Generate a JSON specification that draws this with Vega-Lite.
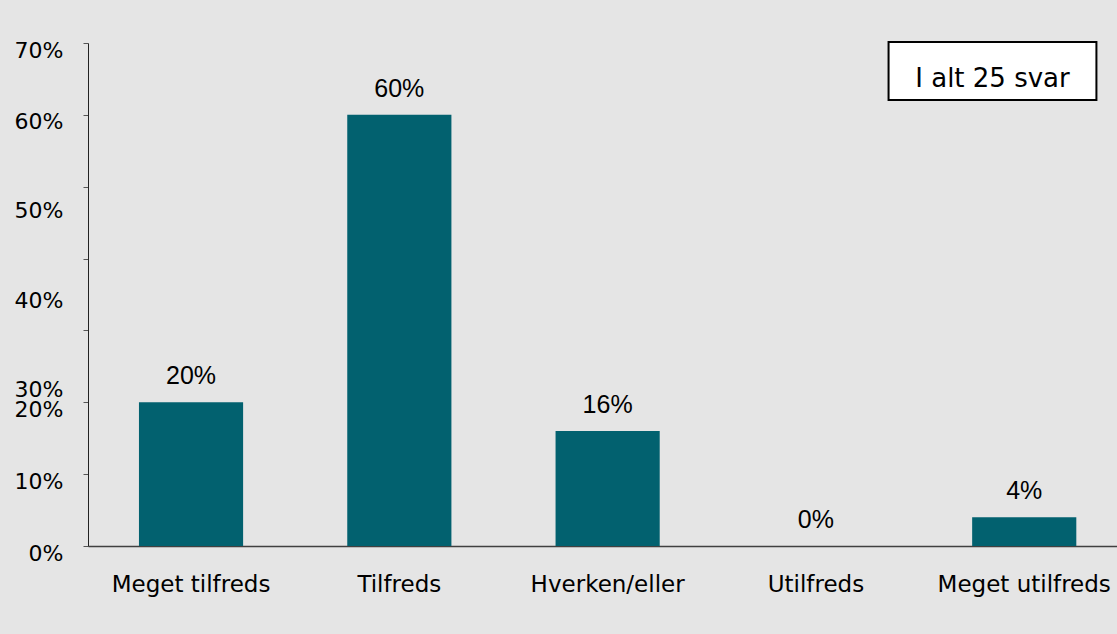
{
  "$schema": "https://vega.github.io/schema/vega-lite/v6.json",
  "width": 1029,
  "height": 503,
  "autosize": {"type": "none"},
  "padding": {"left": 88, "top": 43, "right": 0, "bottom": 88},
  "background": "#e5e5e5",
  "config": {"view": {"stroke": null}, "font": "DejaVu Sans"},
  "data": {
    "values": [
      {"svar": "Meget tilfreds", "andel": 0.20},
      {"svar": "Tilfreds", "andel": 0.60},
      {"svar": "Hverken/eller", "andel": 0.16},
      {"svar": "Utilfreds", "andel": 0.0},
      {"svar": "Meget utilfreds", "andel": 0.04}
    ]
  },
  "layer": [
    {
      "encoding": {
        "x": {
          "field": "svar",
          "type": "nominal",
          "sort": null,
          "scale": {"paddingInner": 0.5, "paddingOuter": 0.22, "align": 0.556},
          "axis": {
            "title": null,
            "labelAngle": 0,
            "ticks": false,
            "labelPadding": 27,
            "labelFontSize": 23,
            "labelColor": "#000000",
            "labelFont": "DejaVu Sans",
            "domainColor": "#404040",
            "domainWidth": 1.5
          }
        },
        "y": {
          "field": "andel",
          "type": "quantitative",
          "scale": {"domain": [0, 0.7], "nice": false},
          "axis": {
            "title": null,
            "values": [0, 0.1, 0.2, 0.3, 0.4, 0.5, 0.6, 0.7],
            "format": ".0%",
            "grid": false,
            "tickSize": 5,
            "labelPadding": 20,
            "labelFontSize": 22,
            "labelFont": "DejaVu Sans",
            "labelColor": "#000000",
            "labelOverlap": false,
            "labelFlush": false,
            "labelBound": false,
            "domainColor": "#222222",
            "tickColor": "#555555",
            "labelOffset": {
              "condition": [
                {"test": "datum.value > 0.25 && datum.value < 0.35", "value": 59},
                {"test": "datum.value > 0.35 && datum.value < 0.45", "value": 42},
                {"test": "datum.value > 0.45 && datum.value < 0.55", "value": 24}
              ],
              "value": 7
            }
          }
        }
      },
      "layer": [
        {"mark": {"type": "bar", "color": "#02616f"}},
        {
          "mark": {
            "type": "text",
            "baseline": "alphabetic",
            "dy": -18,
            "font": "Liberation Sans",
            "fontSize": 25,
            "color": "#000000"
          },
          "encoding": {"text": {"field": "andel", "type": "quantitative", "format": ".0%"}}
        }
      ]
    },
    {
      "data": {"values": [{"tekst": "I alt 25 svar"}]},
      "layer": [
        {
          "mark": {"type": "rect", "fill": "#ffffff", "stroke": "#000000", "strokeWidth": 2},
          "encoding": {
            "x": {"datum": 0.778, "type": "quantitative", "scale": {"domain": [0, 1]}, "axis": null},
            "x2": {"datum": 0.98},
            "y": {"datum": 0.7014, "type": "quantitative"},
            "y2": {"datum": 0.6206}
          }
        },
        {
          "mark": {"type": "text", "baseline": "alphabetic", "align": "center", "font": "DejaVu Sans", "fontSize": 26, "color": "#000000"},
          "encoding": {
            "x": {"datum": 0.879, "type": "quantitative", "scale": {"domain": [0, 1]}, "axis": null},
            "y": {"datum": 0.639, "type": "quantitative"},
            "text": {"field": "tekst"}
          }
        }
      ]
    }
  ],
  "resolve": {"scale": {"x": "independent"}}
}
